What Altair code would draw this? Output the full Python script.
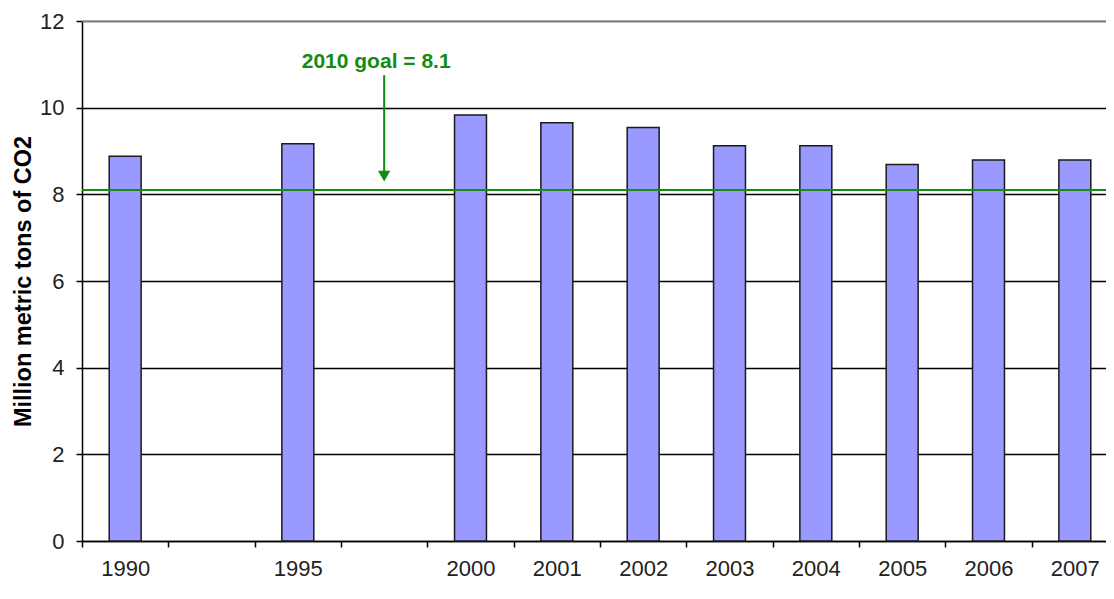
import altair as alt
import pandas as pd

# ---- data ----
# the two gap slots carry blank labels (" " and "  ")
slots = ["1990", " ", "1995", "  ", "2000", "2001", "2002", "2003", "2004", "2005", "2006", "2007"]
years = ["1990", "1995", "2000", "2001", "2002", "2003", "2004", "2005", "2006", "2007"]
values = [8.88, 9.17, 9.83, 9.65, 9.54, 9.12, 9.12, 8.69, 8.79, 8.79]
goal_value = 8.1
goal_label = "2010 goal = 8.1"
goal_slot = "  "
y_title = "Million metric tons of CO2"
y_ticks = [0, 2, 4, 6, 8, 10, 12]

bars_df = pd.DataFrame({"year": years, "value": values})
annot_df = pd.DataFrame({"slot": [goal_slot], "text": [goal_label],
                         "ty": [11.05], "a1": [10.75], "a2": [8.5], "tip": [8.42],
                         "goal": [goal_value], "top": [12]})

GREEN = "#138c13"
FONT = "Liberation Sans"

xscale = alt.Scale(domain=slots, range=[0, 1036], paddingInner=0, paddingOuter=0)
yscale = alt.Scale(domain=[0, 12], nice=False)

xaxis = alt.Axis(
    title=None, tickBand="extent", labelAngle=0, labelFont=FONT, labelFontSize=22,
    labelColor="#222222", labelPadding=11, tickSize=6, tickColor="#000000", tickWidth=1.5,
    domainColor="#000000", domainWidth=1.5, grid=False,
)
yaxis = alt.Axis(
    title=y_title, values=y_ticks, labelFont=FONT, labelFontSize=22, labelColor="#222222",
    labelPadding=12, tickSize=6, tickColor="#000000", tickWidth=1.5,
    domainColor="#000000", domainWidth=1.5, grid=True, gridColor="#000000", gridWidth=1.5,
    titleFont=FONT, titleFontSize=23.5, titleFontWeight="bold", titleColor="#000000",
    titlePadding=4,
)

bars = alt.Chart(bars_df).mark_bar(
    fill="#9999ff", stroke="#1a1a1a", strokeWidth=1.5, width=alt.RelativeBandSize(0.37)
).encode(
    x=alt.X("year:N", scale=xscale, axis=xaxis, sort=slots),
    y=alt.Y("value:Q", scale=yscale, axis=yaxis),
)

top_rule = alt.Chart(annot_df).mark_rule(color="#a0a0a0", strokeWidth=1.5).encode(
    y=alt.Y("top:Q"),
    x=alt.value(0), x2=alt.value(1030),
)

goal_rule = alt.Chart(annot_df).mark_rule(color=GREEN, strokeWidth=2).encode(
    y=alt.Y("goal:Q"),
    x=alt.value(0), x2=alt.value(1030),
)

label = alt.Chart(annot_df).mark_text(
    color=GREEN, font=FONT, fontSize=21, fontWeight="bold", dx=-8, align="center", baseline="middle"
).encode(
    x=alt.X("slot:N", sort=slots),
    y=alt.Y("ty:Q"),
    text="text:N",
)

arrow = alt.Chart(annot_df).mark_rule(color=GREEN, strokeWidth=2).encode(
    x=alt.X("slot:N", sort=slots),
    y=alt.Y("a1:Q"),
    y2="a2:Q",
)

head = alt.Chart(annot_df).mark_point(
    shape="triangle-down", filled=True, color=GREEN, size=150, opacity=1
).encode(
    x=alt.X("slot:N", sort=slots),
    y=alt.Y("tip:Q"),
)

chart = alt.layer(bars, top_rule, goal_rule, label, arrow, head).properties(
    width=1024, height=520,
    autosize=alt.AutoSizeParams(type="none"),
    padding={"left": 74, "top": 13, "right": 0, "bottom": 44},
    background="#ffffff",
).configure_view(strokeWidth=0)

chart.save("out.html", embed_options={"renderer": "svg", "actions": False})
